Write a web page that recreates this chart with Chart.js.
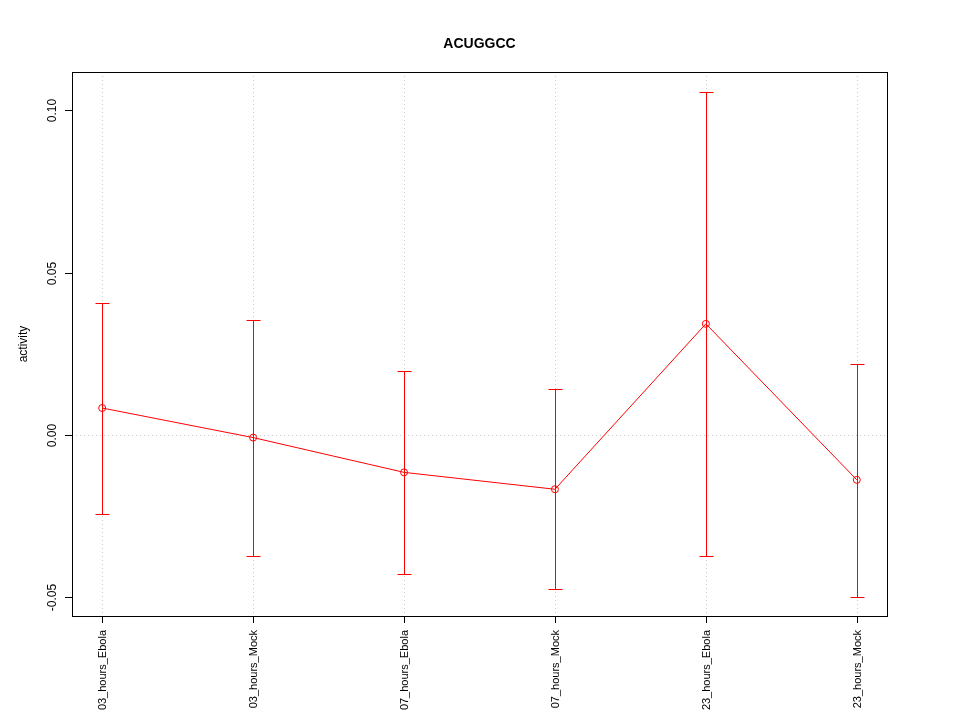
<!DOCTYPE html>
<html>
<head>
<meta charset="utf-8">
<script src="https://cdn.jsdelivr.net/npm/chart.js@4"></script>
<style>
  html, body { margin: 0; padding: 0; background: #fff; }
  #wrap { width: 960px; height: 720px; }
</style>
</head>
<body>
<div id="wrap"><canvas id="chart" width="960" height="720"></canvas></div>
<script>
// Data
const categories = ['03_hours_Ebola', '03_hours_Mock', '07_hours_Ebola', '07_hours_Mock', '23_hours_Ebola', '23_hours_Mock'];
const means = [0.0083, -0.0008, -0.0115, -0.0167, 0.0342, -0.0138];
const upper = [0.0407, 0.0353, 0.0198, 0.0141, 0.1055, 0.0217];
const lower = [-0.0243, -0.0373, -0.0428, -0.0474, -0.0372, -0.0498];
const yTicks = [-0.05, 0.00, 0.05, 0.10];
const yTickLabels = ['-0.05', '0.00', '0.05', '0.10'];

const FONT = '"Liberation Sans", Arial, sans-serif';

// R-style axes, grid, error bars drawn through the chart's scales
const rPlot = {
    id: 'rPlot',
    beforeDatasetsDraw(chart) {
        const { ctx, chartArea: a, scales: { x, y } } = chart;
        ctx.save();
        ctx.strokeStyle = '#cccccc';
        ctx.lineWidth = 1;
        ctx.setLineDash([1, 3]);
        categories.forEach((c, i) => {
            const px = Math.round(x.getPixelForValue(i)) + 0.5;
            ctx.beginPath();
            ctx.moveTo(px, a.top);
            ctx.lineTo(px, a.bottom);
            ctx.stroke();
        });
        const py0 = Math.round(y.getPixelForValue(0)) + 0.5;
        ctx.beginPath();
        ctx.moveTo(a.left, py0);
        ctx.lineTo(a.right, py0);
        ctx.stroke();
        ctx.setLineDash([]);

        // error bars
        ctx.strokeStyle = '#ff0000';
        means.forEach((m, i) => {
            const px = Math.round(x.getPixelForValue(i)) + 0.5;
            const top = Math.round(y.getPixelForValue(upper[i])) + 0.5;
            const bot = Math.round(y.getPixelForValue(lower[i])) + 0.5;
            ctx.beginPath();
            ctx.moveTo(px, top);
            ctx.lineTo(px, bot);
            ctx.moveTo(px - 7, top);
            ctx.lineTo(px + 7, top);
            ctx.moveTo(px - 7, bot);
            ctx.lineTo(px + 7, bot);
            ctx.stroke();
        });
        ctx.restore();
    },
    afterDraw(chart) {
        const { ctx, chartArea: a, scales: { x, y } } = chart;
        ctx.save();
        ctx.strokeStyle = '#000';
        ctx.lineWidth = 1;
        ctx.strokeRect(Math.round(a.left) + 0.5, Math.round(a.top) + 0.5,
                       Math.round(a.right - a.left), Math.round(a.bottom - a.top));

        ctx.fillStyle = '#000';
        ctx.font = '12px ' + FONT;

        // y ticks, labels rotated like R
        yTicks.forEach((v, i) => {
            const py = Math.round(y.getPixelForValue(v)) + 0.5;
            ctx.beginPath();
            ctx.moveTo(a.left, py);
            ctx.lineTo(a.left - 7, py);
            ctx.stroke();
            ctx.save();
            ctx.translate(a.left - 16, py);
            ctx.rotate(-Math.PI / 2);
            ctx.textAlign = 'center';
            ctx.textBaseline = 'alphabetic';
            ctx.fillText(yTickLabels[i], 0, 0);
            ctx.restore();
        });

        // x ticks, vertical labels
        ctx.font = '11px ' + FONT;
        categories.forEach((c, i) => {
            const px = Math.round(x.getPixelForValue(i)) + 0.5;
            ctx.beginPath();
            ctx.moveTo(px, a.bottom);
            ctx.lineTo(px, a.bottom + 7);
            ctx.stroke();
            ctx.save();
            ctx.translate(px, a.bottom + 14);
            ctx.rotate(-Math.PI / 2);
            ctx.textAlign = 'right';
            ctx.textBaseline = 'middle';
            ctx.fillText(c, 0, 0);
            ctx.restore();
        });

        // y axis title
        ctx.font = '12px ' + FONT;
        ctx.save();
        ctx.translate(24, (a.top + a.bottom) / 2);
        ctx.rotate(-Math.PI / 2);
        ctx.textAlign = 'center';
        ctx.textBaseline = 'middle';
        ctx.fillText('activity', 0, 0);
        ctx.restore();

        // title
        ctx.font = 'bold 14px ' + FONT;
        ctx.textAlign = 'center';
        ctx.textBaseline = 'middle';
        ctx.fillText('ACUGGCC', (a.left + a.right) / 2, 44);
        ctx.restore();
    }
};

const ctx = document.getElementById('chart').getContext('2d');
new Chart(ctx, {
    type: 'line',
    data: {
        datasets: [{
            data: means.map((m, i) => ({ x: i, y: m })),
            borderColor: '#ff0000',
            borderWidth: 1,
            pointStyle: 'circle',
            pointRadius: 3.5,
            pointBorderWidth: 1,
            pointBackgroundColor: 'rgba(255,255,255,0)',
            pointBorderColor: '#ff0000',
            tension: 0
        }]
    },
    options: {
        responsive: false,
        animation: false,
        layout: { padding: { left: 72, right: 73, top: 72, bottom: 104 } },
        plugins: { legend: { display: false }, tooltip: { enabled: false } },
        scales: {
            x: { type: 'linear', min: -0.2, max: 5.2, display: false },
            y: { type: 'linear', min: -0.0557, max: 0.1117, display: false }
        }
    },
    plugins: [rPlot]
});
</script>
</body>
</html>
